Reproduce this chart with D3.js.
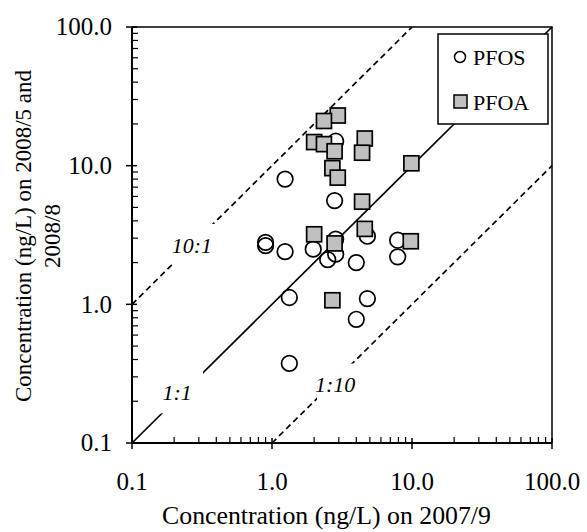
<!DOCTYPE html>
<html lang="en">
<head>
    <meta charset="UTF-8">
    <title>PFOS / PFOA concentrations</title>
    <script src="https://d3js.org/d3.v7.min.js"></script>
    <style>
        body{
            margin: 0;
            background-color: #fff;
        }
        text{
            font-family: "Liberation Serif", "Times New Roman", serif;
            fill: #000;
        }
        .tick-label{ font-size: 25px; }
        .x-title{ font-size: 25.8px; }
        .y-title{ font-size: 23px; }
        .ratio-label{ font-size: 22px; font-style: italic; }
        .legend-text{ font-size: 22px; }
    </style>
</head>
<body>
<div id="chart"></div>
<script>
// values (ng/L)
var pfosX = [1.24, 0.90, 0.90, 1.24, 1.33, 1.33, 1.97, 2.85, 2.8, 2.85, 2.85, 2.5, 4.0, 4.8, 7.9, 7.9, 4.8, 4.0];
var pfosY = [8.0, 2.8, 2.65, 2.4, 1.12, 0.375, 2.5, 15.0, 5.6, 2.95, 2.3, 2.1, 2.0, 3.1, 2.9, 2.2, 1.1, 0.78];
var pfoaX = [2.95, 2.35, 2.0, 2.35, 2.8, 4.6, 4.4, 2.7, 2.95, 9.9, 4.4, 2.0, 4.6, 2.8, 9.8, 2.7];
var pfoaY = [23, 21, 14.8, 14.3, 12.7, 15.7, 12.4, 9.6, 8.2, 10.4, 5.5, 3.2, 3.5, 2.75, 2.85, 1.07];

var majorTicks = [0.1, 1, 10, 100];
var ratioNames = ["10:1", "1:1", "1:10"];
var ratioValues = [10, 1, 0.1];
var ratioLabelX = [0.268, 0.21, 2.82];

var xTitle = "Concentration (ng/L) on 2007/9";
var yTitle = ["Concentration (ng/L) on 2008/5 and", "2008/8"];
var seriesNames = ["PFOS", "PFOA"];

var W = 587, H = 532;
var margin = {top: 27, right: 35, bottom: 89, left: 132},
    width = W - margin.left - margin.right,
    height = H - margin.top - margin.bottom;

var svg = d3.select("#chart")
  .append("svg")
    .attr("width", W)
    .attr("height", H);

var g = svg.append("g")
    .attr("transform", "translate(" + margin.left + "," + margin.top + ")");

var x = d3.scaleLog().domain([0.1, 100]).range([0, width]);
var y = d3.scaleLog().domain([0.1, 100]).range([height, 0]);

// minor ticks 2..9 of every decade
var minorTicks = [];
majorTicks.slice(0, -1).forEach(function(m){
    for (var k = 2; k <= 9; k++) minorTicks.push(m * k);
});

// plot box (top and right)
g.append("path")
    .attr("d", "M0,0H" + width + "V" + height)
    .attr("fill", "none")
    .attr("stroke", "#000")
    .attr("stroke-width", 1.5);

// ratio lines
var ratios = ratioNames.map(function(n, i){
    var k = ratioValues[i];
    var x0 = Math.max(0.1, 0.1 / k), x1 = Math.min(100, 100 / k);
    return {name: n, k: k, x0: x0, x1: x1, lx: ratioLabelX[i]};
});

g.selectAll(".ratio-line")
    .data(ratios)
    .enter()
    .append("line")
        .attr("class", "ratio-line")
        .attr("x1", function(d){ return x(d.x0); })
        .attr("y1", function(d){ return y(d.x0 * d.k); })
        .attr("x2", function(d){ return x(d.x1); })
        .attr("y2", function(d){ return y(d.x1 * d.k); })
        .attr("stroke", "#000")
        .attr("stroke-width", 1.7)
        .attr("stroke-dasharray", function(d){ return d.k === 1 ? null : "6,4"; });

var labelShift = {"10:1": 0, "1:1": -6, "1:10": 4};

var lab = g.selectAll(".ratio")
    .data(ratios)
    .enter()
    .append("g")
        .attr("transform", function(d){
            return "translate(" + x(d.lx) + "," + (y(d.lx * d.k) + labelShift[d.name]) + ")";
        });
lab.append("rect")
    .attr("x", -18).attr("y", -21)
    .attr("width", 44).attr("height", 42)
    .attr("fill", "#fff");
lab.append("text")
    .attr("class", "ratio-label")
    .attr("text-anchor", "middle")
    .attr("dy", "0.35em")
    .text(function(d){ return d.name; });

// axes
var xAxis = g.append("g").attr("transform", "translate(0," + height + ")");
xAxis.append("line").attr("x1", 0).attr("x2", width)
    .attr("stroke", "#000").attr("stroke-width", 2);
xAxis.selectAll(".minor").data(minorTicks).enter().append("line")
    .attr("x1", x).attr("x2", x).attr("y1", -6).attr("y2", 0)
    .attr("stroke", "#000").attr("stroke-width", 1.2);
xAxis.selectAll(".major").data(majorTicks).enter().append("line")
    .attr("x1", x).attr("x2", x).attr("y1", -5).attr("y2", 6)
    .attr("stroke", "#000").attr("stroke-width", 1.5);
xAxis.selectAll(".tick-label").data(majorTicks).enter().append("text")
    .attr("class", "tick-label")
    .attr("x", x).attr("y", 47)
    .attr("text-anchor", "middle")
    .text(d3.format(".1f"));

var yAxis = g.append("g");
yAxis.append("line").attr("y1", 0).attr("y2", height)
    .attr("stroke", "#000").attr("stroke-width", 2);
yAxis.selectAll(".minor").data(minorTicks).enter().append("line")
    .attr("y1", y).attr("y2", y).attr("x1", 0).attr("x2", 6)
    .attr("stroke", "#000").attr("stroke-width", 1.2);
yAxis.selectAll(".major").data(majorTicks).enter().append("line")
    .attr("y1", y).attr("y2", y).attr("x1", -6).attr("x2", 5)
    .attr("stroke", "#000").attr("stroke-width", 1.5);
yAxis.selectAll(".tick-label").data(majorTicks).enter().append("text")
    .attr("class", "tick-label")
    .attr("x", -20).attr("y", y)
    .attr("dy", "0.33em")
    .attr("text-anchor", "end")
    .text(d3.format(".1f"));

// titles
svg.append("text")
    .attr("class", "x-title")
    .attr("x", 326.5)
    .attr("y", 524)
    .attr("text-anchor", "middle")
    .text(xTitle);

var yt = svg.append("text")
    .attr("class", "y-title")
    .attr("transform", "translate(0," + (margin.top + height / 2 + 1) + ") rotate(-90)")
    .attr("text-anchor", "middle");
yt.selectAll("tspan").data(yTitle).enter().append("tspan")
    .attr("x", 0)
    .attr("y", function(d, i){ return 31 + i * 29; })
    .text(function(d){ return d; });

// points
var pfos = pfosX.map(function(v, i){ return {x: v, y: pfosY[i]}; });
var pfoa = pfoaX.map(function(v, i){ return {x: v, y: pfoaY[i]}; });

g.selectAll(".pfos")
    .data(pfos)
    .enter()
    .append("circle")
        .attr("class", "pfos")
        .attr("cx", function(d){ return x(d.x); })
        .attr("cy", function(d){ return y(d.y); })
        .attr("r", 7.8)
        .attr("fill", "none")
        .attr("stroke", "#000")
        .attr("stroke-width", 1.7);

var sq = 15;
g.selectAll(".pfoa")
    .data(pfoa)
    .enter()
    .append("rect")
        .attr("class", "pfoa")
        .attr("x", function(d){ return x(d.x) - sq / 2; })
        .attr("y", function(d){ return y(d.y) - sq / 2; })
        .attr("width", sq)
        .attr("height", sq)
        .attr("fill", "#c0c0c0")
        .attr("stroke", "#000")
        .attr("stroke-width", 1.7);

// legend
var legend = svg.append("g").attr("transform", "translate(438,34)");
legend.append("rect")
    .attr("width", 110).attr("height", 90)
    .attr("fill", "#fff")
    .attr("stroke", "#000")
    .attr("stroke-width", 1.5);
legend.append("circle")
    .attr("cx", 22).attr("cy", 23).attr("r", 5.5)
    .attr("fill", "#fff").attr("stroke", "#000").attr("stroke-width", 1.5);
legend.append("rect")
    .attr("x", 16).attr("y", 61).attr("width", 13).attr("height", 13)
    .attr("fill", "#c0c0c0").attr("stroke", "#000").attr("stroke-width", 1.5);
legend.selectAll(".legend-text")
    .data(seriesNames)
    .enter()
    .append("text")
        .attr("class", "legend-text")
        .attr("x", 35)
        .attr("y", function(d, i){ return 31 + i * 45; })
        .text(function(d){ return d; });
</script>
</body>
</html>
